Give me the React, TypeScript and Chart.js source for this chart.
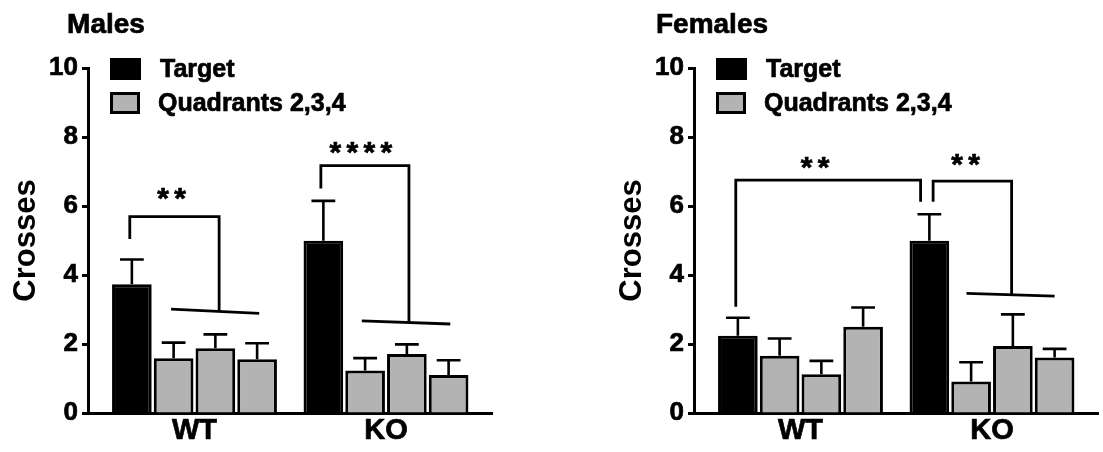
import React, { useEffect, useRef } from 'react';
import { Chart, registerables } from 'chart.js';

Chart.register(...registerables);

// ---------- data ----------
const GROUPS = ['WT', 'KO'];
const SERIES_NAMES = ['Target', 'Quadrant 2', 'Quadrant 3', 'Quadrant 4'];
const LEGEND_LABELS = ['Target', 'Quadrants 2,3,4'];
const Y_TICK_STEP = 2;
const Y_MAX = 10;

const MALES_TARGET = [3.73, 4.99];
const MALES_Q2 = [1.59, 1.23];
const MALES_Q3 = [1.88, 1.71];
const MALES_Q4 = [1.56, 1.1];
const MALES_TARGET_ERR = [0.72, 1.16];
const MALES_Q2_ERR = [0.45, 0.36];
const MALES_Q3_ERR = [0.4, 0.28];
const MALES_Q4_ERR = [0.46, 0.43];

const FEMALES_TARGET = [2.24, 4.99];
const FEMALES_Q2 = [1.66, 0.91];
const FEMALES_Q3 = [1.12, 1.94];
const FEMALES_Q4 = [2.5, 1.61];
const FEMALES_TARGET_ERR = [0.52, 0.77];
const FEMALES_Q2_ERR = [0.5, 0.56];
const FEMALES_Q3_ERR = [0.39, 0.92];
const FEMALES_Q4_ERR = [0.56, 0.25];

// significance brackets (x = group index + slot * bar pitch, y in data units)
const MALES_BRACKETS = [
  { label: '**', g1: 0, s1: -1.55, y1: 5.04, g2: 0, s2: 0.59, y2: 2.96, top: 5.69,
    line: { g: 0, s1: -0.56, s2: 1.55, y1: 3.01, y2: 2.89 }, labelG: 0, labelS: -0.55, labelY: 6.35 },
  { label: '****', g1: 1, s1: -1.56, y1: 6.51, g2: 1, s2: 0.55, y2: 2.63, top: 7.17,
    line: { g: 1, s1: -0.58, s2: 1.54, y1: 2.67, y2: 2.58 }, labelG: 1, labelS: -0.6, labelY: 7.68 },
];
const FEMALES_BRACKETS = [
  { label: '**', g1: 0, s1: -1.55, y1: 3.08, g2: 1, s2: -1.71, y2: 6.12, top: 6.75,
    line: null, labelG: 0, labelS: 0.35, labelY: 7.25 },
  { label: '**', g1: 1, s1: -1.41, y1: 6.12, g2: 1, s2: 0.47, y2: 3.45, top: 6.72,
    line: { g: 1, s1: -0.61, s2: 1.5, y1: 3.47, y2: 3.39 }, labelG: 1, labelS: -0.63, labelY: 7.33 },
];

// ---------- style ----------
const FONT = '"Liberation Sans", Arial, Helvetica, sans-serif';
const GRAY = '#b3b3b3';
const CAT_PCT = 0.872;
const BAR_PCT = 0.95;
const BAR_PITCH = CAT_PCT / 4;
const X_MIN = -0.5561;
const X_MAX = 1.5536;
const TEXT_STROKE = 0.7;

Chart.defaults.color = '#000';

function heavyText(ctx: CanvasRenderingContext2D, text: string, x: number, y: number) {
  ctx.fillText(text, x, y);
  ctx.lineWidth = TEXT_STROKE;
  ctx.strokeStyle = '#000';
  ctx.strokeText(text, x, y);
}

function buildConfig(title: string, series: number[][], errors: number[][], brackets: any[], canvasWidth: number) {
  const overlay = {
    id: 'overlay',
    afterDatasetsDraw(chart: any) {
      const ctx = chart.ctx;
      const ys = chart.scales.y;
      ctx.save();
      ctx.strokeStyle = '#000';
      ctx.lineWidth = 2.6;
      ctx.lineCap = 'butt';
      chart.data.datasets.forEach((ds: any, di: number) => {
        const meta = chart.getDatasetMeta(di);
        meta.data.forEach((bar: any, i: number) => {
          const { x, width } = bar.getProps(['x', 'width'], true);
          const v = series[di][i];
          const yBar = ys.getPixelForValue(v);
          const yTop = ys.getPixelForValue(v + errors[di][i]);
          const half = width * 0.3;
          ctx.beginPath();
          ctx.moveTo(x, yBar);
          ctx.lineTo(x, yTop);
          ctx.moveTo(x - half, yTop);
          ctx.lineTo(x + half, yTop);
          ctx.stroke();
        });
      });
      ctx.restore();
    },
    afterDraw(chart: any) {
      const ctx = chart.ctx;
      const xs = chart.scales.x;
      const ys = chart.scales.y;
      const px = (g: number, s: number) => xs.getPixelForValue(g + s * BAR_PITCH);
      const py = (v: number) => ys.getPixelForValue(v);

      ctx.save();
      // brackets
      brackets.forEach((b) => {
        ctx.strokeStyle = '#000';
        ctx.lineWidth = 2.8;
        ctx.lineJoin = 'miter';
        ctx.lineCap = 'butt';
        const xa = px(b.g1, b.s1);
        const xb = px(b.g2, b.s2);
        ctx.beginPath();
        ctx.moveTo(xa, py(b.y1));
        ctx.lineTo(xa, py(b.top));
        ctx.lineTo(xb, py(b.top));
        ctx.lineTo(xb, py(b.y2));
        ctx.stroke();
        if (b.line) {
          ctx.beginPath();
          ctx.moveTo(px(b.line.g, b.line.s1), py(b.line.y1));
          ctx.lineTo(px(b.line.g, b.line.s2), py(b.line.y2));
          ctx.stroke();
        }
        // asterisks
        ctx.font = `bold 30px ${FONT}`;
        ctx.fillStyle = '#000';
        ctx.textAlign = 'center';
        ctx.textBaseline = 'alphabetic';
        const m = ctx.measureText('*');
        const cx = px(b.labelG, b.labelS);
        const cy = py(b.labelY);
        const base = cy + (m.actualBoundingBoxAscent - m.actualBoundingBoxDescent) / 2;
        const n = b.label.length;
        const pitch = 17;
        for (let i = 0; i < n; i++) {
          heavyText(ctx, b.label[i], cx + (i - (n - 1) / 2) * pitch, base);
        }
      });

      // title
      ctx.font = `bold 28px ${FONT}`;
      ctx.textAlign = 'center';
      ctx.textBaseline = 'alphabetic';
      ctx.fillStyle = '#000';
      heavyText(ctx, title, 106, 33);

      // legend
      ctx.fillStyle = '#000';
      ctx.fillRect(110, 58, 31, 22);
      ctx.fillStyle = GRAY;
      ctx.fillRect(110, 92, 30, 22);
      ctx.strokeStyle = '#000';
      ctx.lineWidth = 3;
      ctx.strokeRect(111.5, 93.5, 27, 19);
      ctx.fillStyle = '#000';
      ctx.font = `bold 25px ${FONT}`;
      ctx.textAlign = 'left';
      ctx.textBaseline = 'middle';
      heavyText(ctx, LEGEND_LABELS[0], 160, 70);
      heavyText(ctx, LEGEND_LABELS[1], 158, 104);
      ctx.restore();
    },
  };

  return {
    type: 'bar' as const,
    data: {
      datasets: series.map((vals, si) => ({
        label: SERIES_NAMES[si],
        data: vals.map((v, gi) => ({ x: gi, y: v })),
        backgroundColor: si === 0 ? '#000' : GRAY,
        borderColor: '#000',
        borderWidth: 3,
        categoryPercentage: CAT_PCT,
        barPercentage: BAR_PCT,
      })),
    },
    options: {
      responsive: false,
      maintainAspectRatio: false,
      animation: false as const,
      layout: { padding: { top: 68, left: 0, right: canvasWidth - 492, bottom: 0 } },
      plugins: {
        legend: { display: false },
        tooltip: { enabled: false },
        title: { display: false },
      },
      scales: {
        x: {
          type: 'linear' as const,
          min: X_MIN,
          max: X_MAX,
          offset: false,
          grid: { display: false, drawTicks: false },
          border: { display: true, color: '#000', width: 3 },
          afterBuildTicks: (s: any) => {
            s.ticks = GROUPS.map((_, i) => ({ value: i }));
          },
          ticks: {
            autoSkip: false,
            maxRotation: 0,
            padding: 1,
            color: '#000',
            textStrokeColor: '#000',
            textStrokeWidth: TEXT_STROKE,
            font: { family: FONT, size: 29, weight: 'bold' as const },
            callback: (v: any) => GROUPS[Math.round(Number(v))] ?? '',
          },
          afterFit: (s: any) => {
            s.height = 39;
          },
        },
        y: {
          min: 0,
          max: Y_MAX,
          ticks: {
            stepSize: Y_TICK_STEP,
            padding: 4,
            color: '#000',
            textStrokeColor: '#000',
            textStrokeWidth: TEXT_STROKE,
            font: { family: FONT, size: 26, weight: 'bold' as const },
          },
          grid: { drawOnChartArea: false, drawTicks: true, tickLength: 6, tickWidth: 3, tickColor: '#000' },
          border: { display: true, color: '#000', width: 3 },
          title: {
            display: true,
            text: 'Crosses',
            color: '#000',
            font: { family: FONT, size: 31, weight: 'bold' as const },
            padding: { top: 8, bottom: 0 },
          },
          afterFit: (s: any) => {
            s.width = 88;
          },
        },
      },
    },
    plugins: [overlay],
  };
}

function Panel(props: { title: string; series: number[][]; errors: number[][]; brackets: any[]; left: number; width: number }) {
  const ref = useRef<HTMLCanvasElement | null>(null);
  useEffect(() => {
    if (!ref.current) return;
    const chart = new Chart(ref.current, buildConfig(props.title, props.series, props.errors, props.brackets, props.width) as any);
    return () => chart.destroy();
  }, []);
  return (
    <canvas
      ref={ref}
      width={props.width}
      height={452}
      style={{ position: 'absolute', left: props.left, top: 0, width: props.width, height: 452 }}
    />
  );
}

export default function App() {
  return (
    <div style={{ position: 'absolute', left: 0, top: 0, width: 1103, height: 452, background: '#fff', overflow: 'hidden' }}>
      <Panel
        title="Males"
        series={[MALES_TARGET, MALES_Q2, MALES_Q3, MALES_Q4]}
        errors={[MALES_TARGET_ERR, MALES_Q2_ERR, MALES_Q3_ERR, MALES_Q4_ERR]}
        brackets={MALES_BRACKETS}
        left={0}
        width={606}
      />
      <Panel
        title="Females"
        series={[FEMALES_TARGET, FEMALES_Q2, FEMALES_Q3, FEMALES_Q4]}
        errors={[FEMALES_TARGET_ERR, FEMALES_Q2_ERR, FEMALES_Q3_ERR, FEMALES_Q4_ERR]}
        brackets={FEMALES_BRACKETS}
        left={606}
        width={497}
      />
    </div>
  );
}
